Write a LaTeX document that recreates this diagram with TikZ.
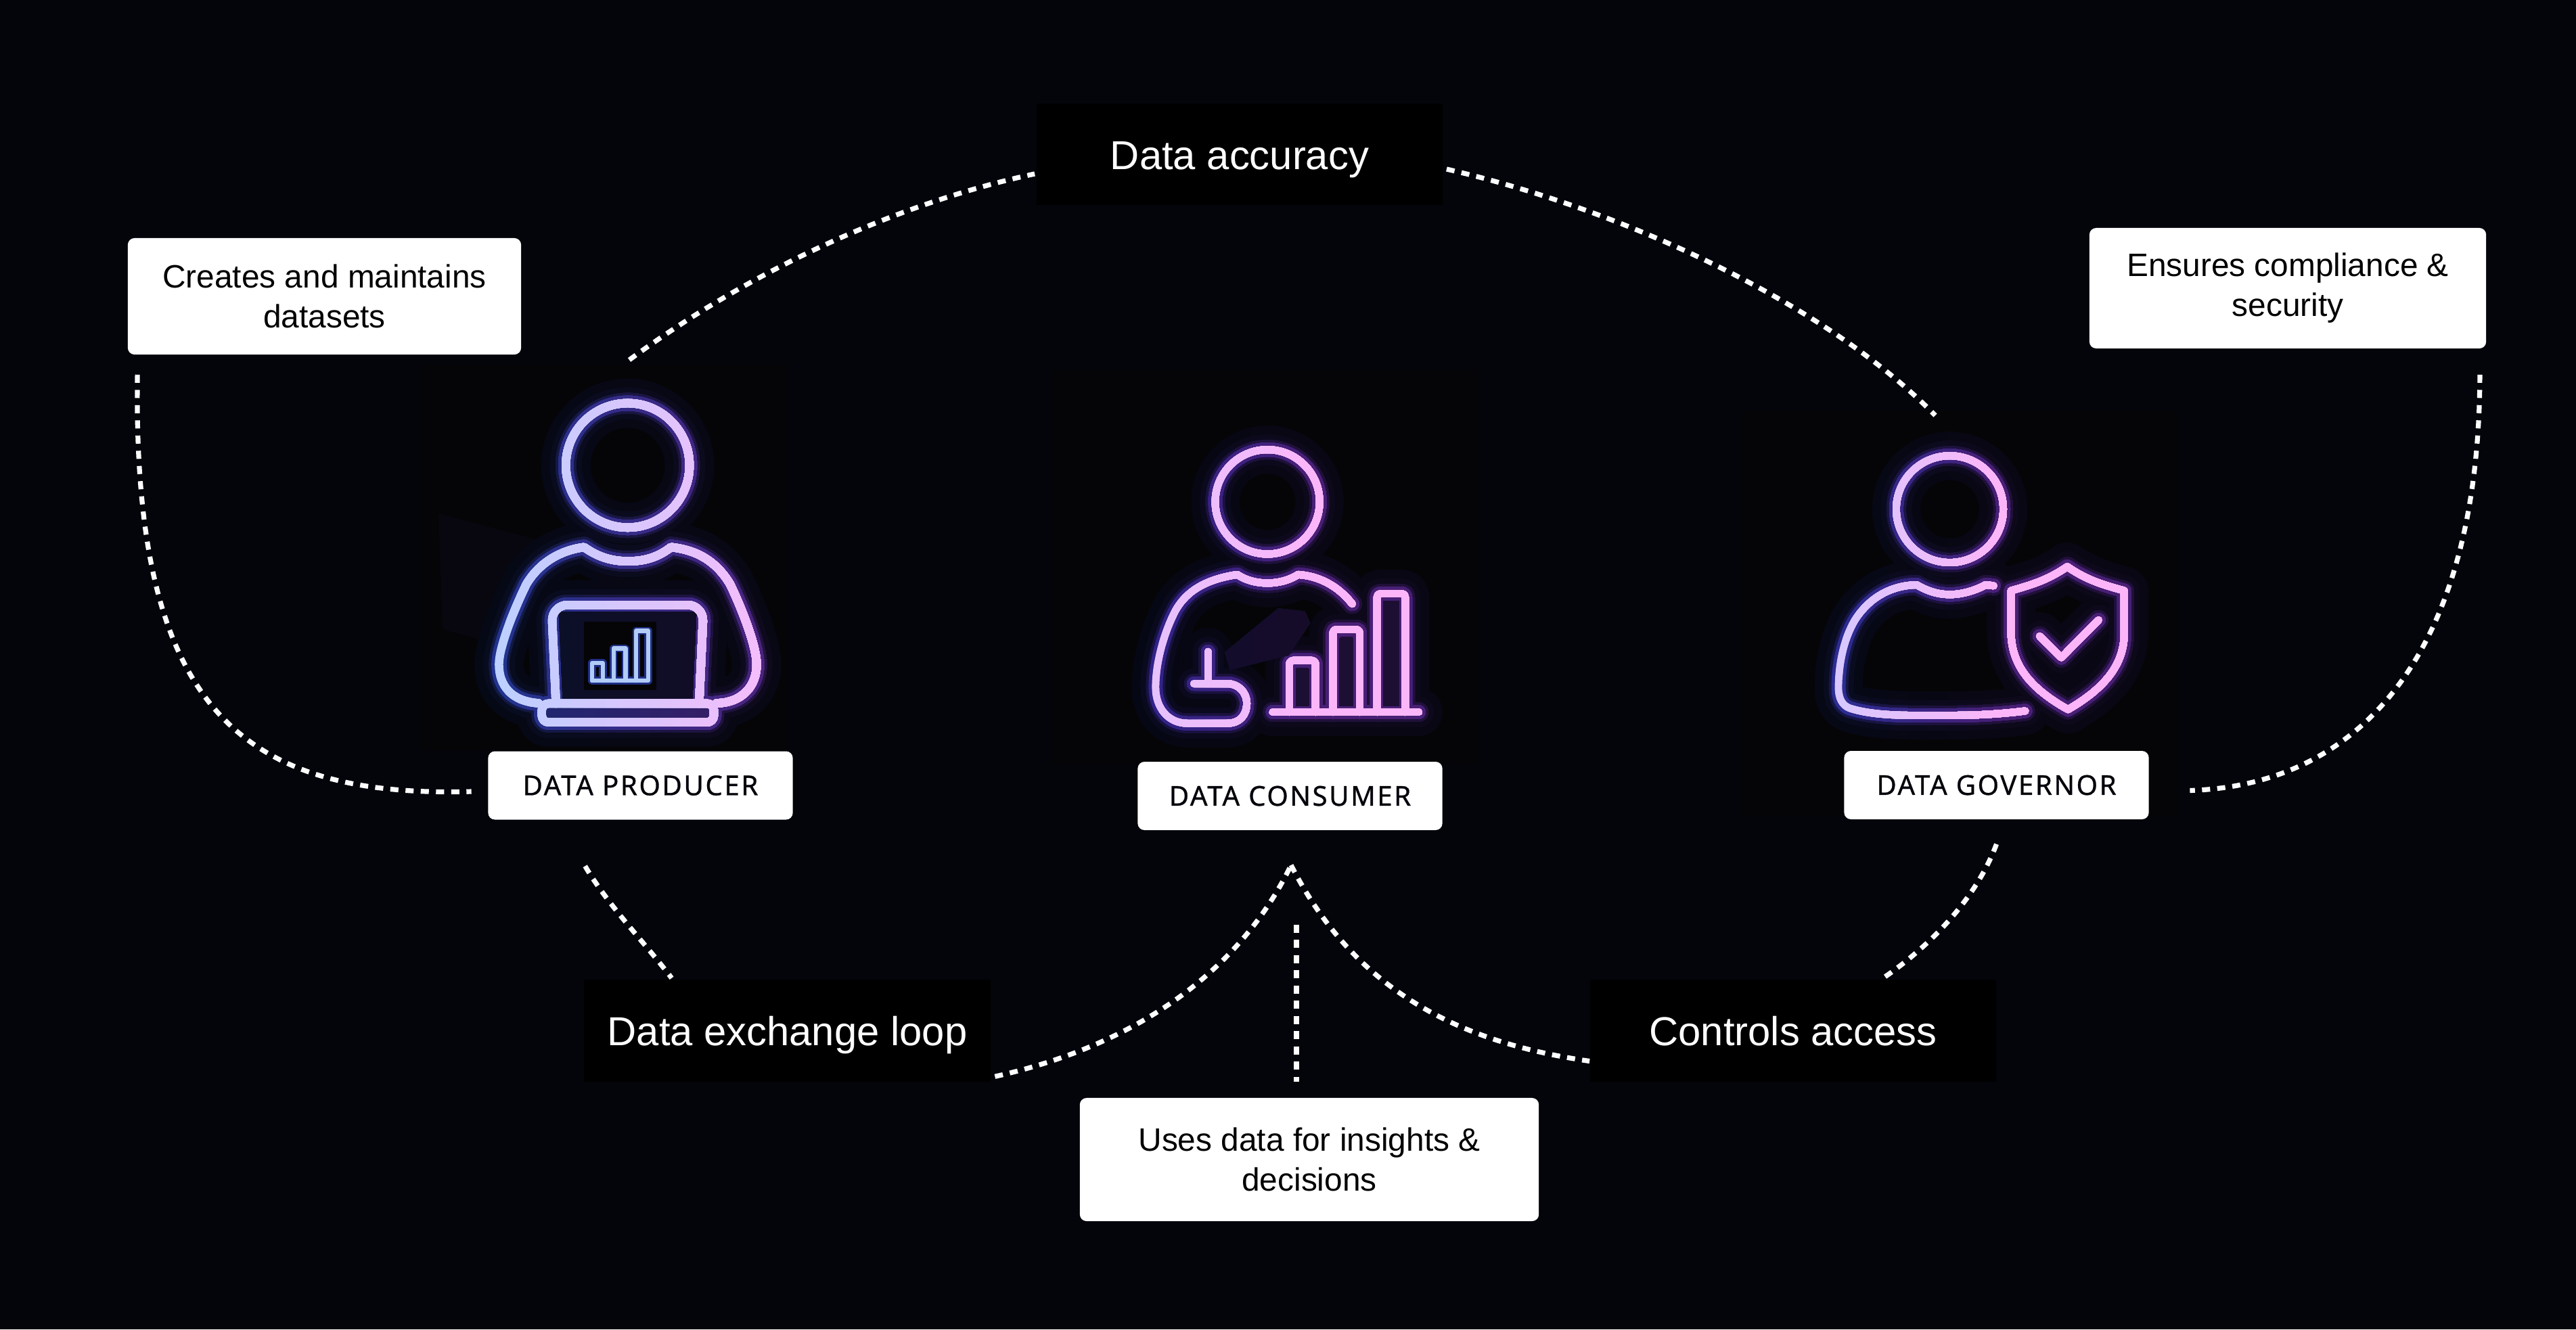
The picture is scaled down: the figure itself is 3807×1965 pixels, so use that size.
\documentclass[tikz,border=0pt]{standalone}
\usepackage{fontspec}
\setmainfont{Liberation Sans}
\newfontfamily\tagfont[LetterSpace=6,FakeBold=0.7]{Noto Sans}
\usetikzlibrary{arrows.meta, positioning}
\definecolor{pagebg}{HTML}{03050B}
\definecolor{framebg}{HTML}{050507}
\definecolor{patchc}{HTML}{08070F}
\definecolor{chartline}{HTML}{B0CCF7}
\definecolor{chartglow}{HTML}{1F2F86}
\definecolor{corel}{HTML}{BDD0FF}
\definecolor{corer}{HTML}{F6BCFB}
\definecolor{halol}{HTML}{2A3FB0}
\definecolor{halor}{HTML}{5E2A9C}
\tikzset{
  note/.style={fill=white, text=black, rounded corners=1mm, align=center, inner sep=0pt,
               font=\fontsize{13.6}{16.8}\selectfont},
  topic/.style={fill=black, text=white, minimum width=60mm, minimum height=15mm, inner sep=0pt,
                text height=12.5pt, text depth=0pt, font=\fontsize{17}{20}\selectfont},
  role/.style={fill=white, text=pagebg, rounded corners=1mm, inner sep=0pt,
               minimum width=45mm, minimum height=10.1mm, font=\tagfont\fontsize{11.5}{13}\selectfont},
  link/.style={draw=white, line width=0.72mm, dash pattern=on 1.2mm off 1.05mm},
  iconframe/.style={x=0.003954cm, y=-0.004337cm},
  neon/.style={draw=neonc, line width=\neonw+\neonx, line cap=round, line join=round},
  neonthin/.style={draw=neonc, line width=0.5*\neonw+\neonx, line cap=round, line join=round},
}
% one icon: one pass per glow layer, then fills, then the bright line
% every pass runs in strips from left to right, each painted over the one before
\newcommand{\neonpass}[3]{
  \foreach \k in {0,...,24}{
    \pgfmathsetmacro{\mixval}{100*\k/24}
    \pgfmathsetmacro{\xk}{ifthenelse(\k==0,-300,#2+(#3-#2)/24*\k)}
    \begin{scope}
      \clip (\xk,-200) rectangle (1800,1800);
      \colorlet{corec}{corer!\mixval!corel}
      \colorlet{haloc}{halor!\mixval!halol}
      #1
    \end{scope}
  }
}
\newcommand{\neonstrips}[4]{
  \foreach \ext/\mix in {6mm/6, 3.4mm/12, 1.8mm/35, 1mm/80}{
    \neonpass{\colorlet{neonc}{haloc!\mix!pagebg}\def\neonx{\ext}#1}{#3}{#4}
  }
  \neonpass{#2}{#3}{#4}
  \neonpass{\colorlet{neonc}{corec}\def\neonx{0mm}#1}{#3}{#4}
}
\newcommand{\producerpaths}{
  \path[neon] (778,341) ellipse [x radius=231, y radius=212];
  \path[neon] (445,1152) .. controls (340,1145) and (297,1090) .. (297,1020)
    .. controls (297,950) and (370,800) .. (400,745) .. controls (450,670) and (530,630) .. (615,620)
    .. controls (670,655) and (720,668) .. (780,668) .. controls (840,668) and (890,655) .. (940,620)
    .. controls (1040,630) and (1110,670) .. (1160,745) .. controls (1190,800) and (1260,950) .. (1260,1020)
    .. controls (1260,1090) and (1210,1150) .. (1110,1152);
  \path[neon, rounded corners=2.4mm] (510,1153) -- (493,817) -- (1062,817) -- (1045,1153);
  \path[neon, rounded corners=1mm] (457,1153) -- (457,1217) -- (1100,1217) -- (1100,1153) -- cycle;
}
\newcommand{\producerfills}{
  \fill[haloc!18!pagebg] (520,840) -- (1035,840) -- (1020,1140) -- (535,1140) -- cycle;
  \fill[haloc!62!pagebg] (457,1153) rectangle (1100,1217);
}
\newcommand{\consumerpaths}{
  \path[neon] (640,327) ellipse [x radius=195, y radius=178];
  \path[neon] (957,675) .. controls (900,610) and (830,580) .. (755,575)
    .. controls (720,595) and (680,604) .. (640,604) .. controls (600,604) and (560,595) .. (527,575)
    .. controls (420,590) and (340,625) .. (295,700) .. controls (250,780) and (222,880) .. (222,960)
    .. controls (222,1030) and (270,1082) .. (340,1082) -- (490,1082)
    .. controls (540,1082) and (563,1050) .. (563,1015) .. controls (563,975) and (530,947) .. (490,947) -- (365,947);
  \path[neon] (418,838) -- (418,947);
  \path[neon] (660,1044) -- (1205,1044);
  \path[neon, rounded corners=0.5mm] (722,1044) -- (722,868) -- (820,868) -- (820,1044);
  \path[neon, rounded corners=0.5mm] (885,1044) -- (885,762) -- (985,762) -- (985,1044);
  \path[neon, rounded corners=0.5mm] (1050,1044) -- (1050,640) -- (1155,640) -- (1155,1044);
}
\newcommand{\consumerfills}{
  \fill[haloc!22!pagebg] (480,840) -- (680,690) -- (780,700) -- (800,740) -- (720,850) -- (500,900) -- cycle;
  \fill[haloc!30!pagebg] (745,895) rectangle (797,1025);
  \fill[haloc!30!pagebg] (908,790) rectangle (962,1025);
  \fill[haloc!30!pagebg] (1073,665) rectangle (1132,1025);
}
\newcommand{\governorpaths}{
  \path[neon] (636,352) ellipse [x radius=200, y radius=182];
  \path[neon] (800,613) -- (770,610) .. controls (730,630) and (680,643) .. (636,643)
    .. controls (590,643) and (550,630) .. (512,610) .. controls (420,612) and (340,650) .. (285,725)
    .. controls (240,790) and (220,880) .. (220,960) .. controls (220,1000) and (235,1020) .. (260,1030)
    .. controls (360,1060) and (500,1055) .. (640,1055) .. controls (740,1055) and (830,1050) .. (918,1040);
  \path[neon] (1075,548) .. controls (1000,595) and (940,610) .. (865,630) -- (865,780)
    .. controls (870,880) and (930,960) .. (1078,1035) .. controls (1220,960) and (1285,880) .. (1288,780)
    -- (1288,630) .. controls (1210,610) and (1150,595) .. (1075,548) -- cycle;
  \path[neon] (972,785) -- (1053,858) -- (1192,730);
}
\begin{document}
\begin{tikzpicture}[x=0.01cm, y=-0.01cm]
  \useasboundingbox (0,0) rectangle (3807,1965);
  \fill[pagebg] (0,0) rectangle (3807,1965);
  \fill[framebg] (619,539) rectangle (1165,1110);
  \fill[framebg] (1554,546) rectangle (2185,1129);
  \fill[framebg] (2574,607) rectangle (3217,1207);
  \fill[patchc] (648,759) -- (802,800) -- (719,948) -- (654,930) -- cycle;

  % icons
  \begin{scope}[shift={(620,540)}, iconframe]
    \def\neonw{1.25mm}
    \neonstrips{\producerpaths}{\producerfills}{280}{1280}
    \fill[framebg] (615,875) rectangle (885,1108);
    \foreach \ext/\col in {0.5mm/chartglow, 0mm/chartline}{
      \def\neonx{\ext}
      \colorlet{neonc}{\col}
      \path[neonthin] (645,1075) -- (645,1015) -- (685,1015) -- (685,1075);
      \path[neonthin] (725,1075) -- (725,965) -- (770,965) -- (770,1075);
      \path[neonthin] (810,1075) -- (810,905) -- (855,905) -- (855,1075) -- (645,1075);
    }
  \end{scope}
  \begin{scope}[shift={(1620,600)}, iconframe]
    \def\neonw{1.08mm}
    \definecolor{corel}{HTML}{E6C2FC}
    \definecolor{corer}{HTML}{FBB6FA}
    \definecolor{halol}{HTML}{3C2BA8}
    \definecolor{halor}{HTML}{5A2590}
    \neonstrips{\consumerpaths}{\consumerfills}{210}{800}
  \end{scope}
  \begin{scope}[shift={(2630,600)}, iconframe]
    \def\neonw{1.08mm}
    \definecolor{corel}{HTML}{D8C8FF}
    \definecolor{corer}{HTML}{FBB5F8}
    \definecolor{halol}{HTML}{3636B4}
    \definecolor{halor}{HTML}{5A2590}
    \neonstrips{\governorpaths}{}{210}{800}
  \end{scope}

  % boxes
  \node[note, minimum width=58.1mm, minimum height=17.2mm] (creates) at (479.5,438) {Creates and maintains\\datasets};
  \node[note, minimum width=58.6mm, minimum height=17.8mm] (ensures) at (3381,426) {Ensures compliance \&\\security};
  \node[note, minimum width=67.8mm, minimum height=18.2mm] (uses) at (1935,1714) {Uses data for insights \&\\decisions};
  \foreach \nm/\x/\y/\lbl in {accuracy/1832/228/{Data accuracy},exchange/1163.5/1523.5/{Data exchange loop},controls/2650/1523.5/{Controls access}}{
    \node[topic] (\nm) at (\x,\y) {\lbl};
  }
  \foreach \nm/\x/\y/\lbl in {producer/946.5/1161/{DATA PRODUCER},consumer/1906.5/1176.5/{DATA CONSUMER},governor/2950.5/1160.5/{DATA GOVERNOR}}{
    \node[role] (\nm) at (\x,\y) {\lbl};
  }
  \coordinate (producertop) at (930,532);
  \coordinate (governortop) at (2860,614);

  % dashed links
  \draw[link] ([shift={(15,29)}]creates.south west) .. controls (196,1040) and (350,1180) .. ([shift={(-24,9)}]producer.west);
  \draw[link] (producertop) .. controls (1130,385) and (1350,295) .. ([shift={(-2,29)}]accuracy.west);
  \draw[link] ([shift={(5,22)}]accuracy.east) .. controls (2400,310) and (2700,450) .. (governortop);
  \draw[link] ([shift={(-10,38)}]ensures.south east) .. controls (3664,950) and (3500,1160) .. ([shift={(60,8)}]governor.east);
  \draw[link] ([shift={(144,68)}]producer.south west) .. controls (900,1340) and (950,1390) .. ([shift={(130,-2)}]exchange.north west);
  \draw[link] ([shift={(6,-8)}]exchange.south east) .. controls (1700,1540) and (1840,1420) .. ([shift={(1.5,51)}]consumer.south);
  \draw[link] ([shift={(1.5,51)}]consumer.south) .. controls (2000,1460) and (2150,1540) .. ([shift={(0,45)}]controls.west);
  \draw[link] ([shift={(9.5,139)}]consumer.south) -- ([shift={(-19,-23)}]uses.north);
  \draw[link] ([shift={(0,36)}]governor.south) .. controls (2920,1330) and (2850,1400) .. ([shift={(133,-2)}]controls.north);
\end{tikzpicture}
\end{document}
